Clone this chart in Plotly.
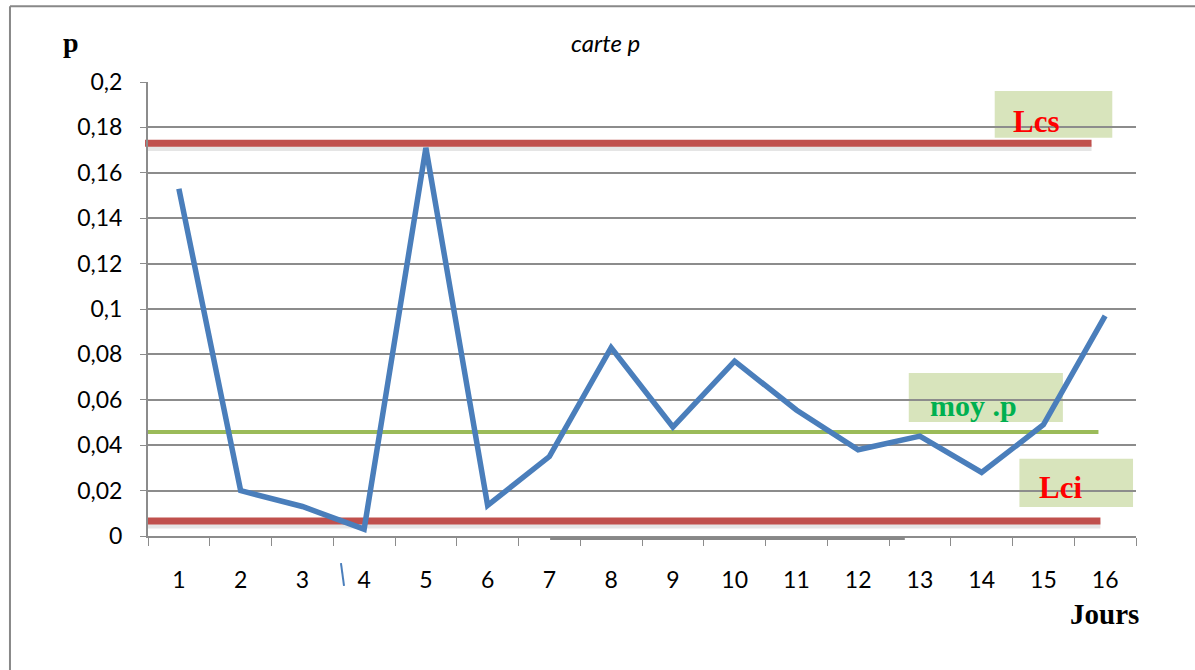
import plotly.graph_objects as go

jours = [str(i) for i in range(1, 17)]
p_values = [0.153, 0.020, 0.013, 0.003, 0.171, 0.0135, 0.035, 0.083,
            0.048, 0.077, 0.0555, 0.038, 0.044, 0.028, 0.049, 0.097]
y_ticks = [0, 0.02, 0.04, 0.06, 0.08, 0.1, 0.12, 0.14, 0.16, 0.18, 0.2]
lcs = 0.173
moy_p = 0.0458
lci = 0.0066

BLUE = "#4A7EBB"
RED = "#C0504D"
GREEN = "#9BBB59"
BOX = "#D8E4BC"
GRID = "#8C8C8C"
SANS = "Lato, Open Sans, sans-serif"
TICKFONT = dict(family=SANS, size=23, color="#000")
SERIF = "Liberation Serif, Times New Roman, serif"

fig = go.Figure()
fig.add_trace(go.Scatter(x=jours, y=p_values, mode="lines",
                         line=dict(color=BLUE, width=5.5), showlegend=False,
                         hoverinfo="x+y"))

shapes = []
# shadows of control lines
for val, x1 in [(lcs, 0.955), (lci, 0.964)]:
    shapes.append(dict(type="line", xref="paper", yref="y", x0=0, x1=x1,
                       y0=val - 0.0018, y1=val - 0.0018, layer="between",
                       line=dict(color="rgba(0,0,0,0.10)", width=7)))
# control lines
shapes.append(dict(type="line", xref="paper", yref="y", x0=-0.003, x1=0.955,
                   y0=lcs, y1=lcs, layer="between", line=dict(color=RED, width=7)))
shapes.append(dict(type="line", xref="paper", yref="y", x0=0, x1=0.962,
                   y0=moy_p, y1=moy_p, layer="between", line=dict(color=GREEN, width=4)))
shapes.append(dict(type="line", xref="paper", yref="y", x0=0, x1=0.964,
                   y0=lci, y1=lci, layer="between", line=dict(color=RED, width=7)))
# label boxes
for x0, x1, y0, y1 in [(0.857, 0.976, 0.877, 0.980),
                       (0.770, 0.926, 0.251, 0.359),
                       (0.882, 0.997, 0.064, 0.170)]:
    shapes.append(dict(type="rect", xref="paper", yref="paper", x0=x0, x1=x1,
                       y0=y0, y1=y1, layer="between", fillcolor=BOX,
                       line=dict(width=0)))
# outer frame (left and top)
shapes.append(dict(type="line", xref="paper", yref="paper", x0=-0.1397, x1=-0.1397,
                   y0=-0.32, y1=1.167, line=dict(color="#888", width=2)))
shapes.append(dict(type="line", xref="paper", yref="paper", x0=-0.1397, x1=1.07,
                   y0=1.167, y1=1.167, line=dict(color="#888", width=2)))
# stray marks
shapes.append(dict(type="line", xref="paper", yref="paper", x0=0.1953, x1=0.1984,
                   y0=-0.0595, y1=-0.110, line=dict(color=BLUE, width=2)))
shapes.append(dict(type="line", xref="paper", yref="paper", x0=0.407, x1=0.766,
                   y0=-0.0055, y1=-0.0055, line=dict(color="#888", width=3)))

def ann(text, x, y, font):
    return dict(text=text, x=x, y=y, xref="paper", yref="paper", showarrow=False,
                xanchor="center", yanchor="middle", font=font)

annotations = [
    ann("<b>Lcs</b>", 0.8988, 0.912, dict(family=SERIF, size=31, color="#FF0000")),
    ann("<b>moy .p</b>", 0.836, 0.287, dict(family=SERIF, size=30, color="#00B050")),
    ann("<b>Lci</b>", 0.9231, 0.106, dict(family=SERIF, size=31, color="#FF0000")),
    ann("<b>p</b>", -0.0781, 1.086, dict(family=SERIF, size=28, color="#000")),
    ann("<b>Jours</b>", 0.9686, -0.172, dict(family=SERIF, size=29, color="#000")),
    ann("<i>carte p</i>", 0.4626, 1.088, dict(family=SANS, size=24, color="#000")),
]

fig.update_layout(
    width=1195, height=670,
    margin=dict(l=148, r=59, t=82, b=134),
    paper_bgcolor="white", plot_bgcolor="white",
    separators=", ",
    shapes=shapes, annotations=annotations,
    xaxis=dict(type="category", range=[-0.5, 15.5], showgrid=False,
               showline=True, linecolor=GRID, linewidth=2,
               ticks="outside", ticklen=8, tickcolor=GRID, tickwidth=1,
               tickson="boundaries", tickfont=TICKFONT, ticklabelstandoff=22,
               zeroline=False),
    yaxis=dict(range=[0, 0.2], tickvals=y_ticks, showgrid=True,
               gridcolor=GRID, gridwidth=2, showline=True, linecolor=GRID,
               linewidth=2, ticks="outside", ticklen=6, tickcolor=GRID,
               tickfont=TICKFONT, ticklabelstandoff=13, zeroline=False),
)

fig.write_html("out.html", config={"displayModeBar": False},
               post_script="document.body.style.margin='0';")
